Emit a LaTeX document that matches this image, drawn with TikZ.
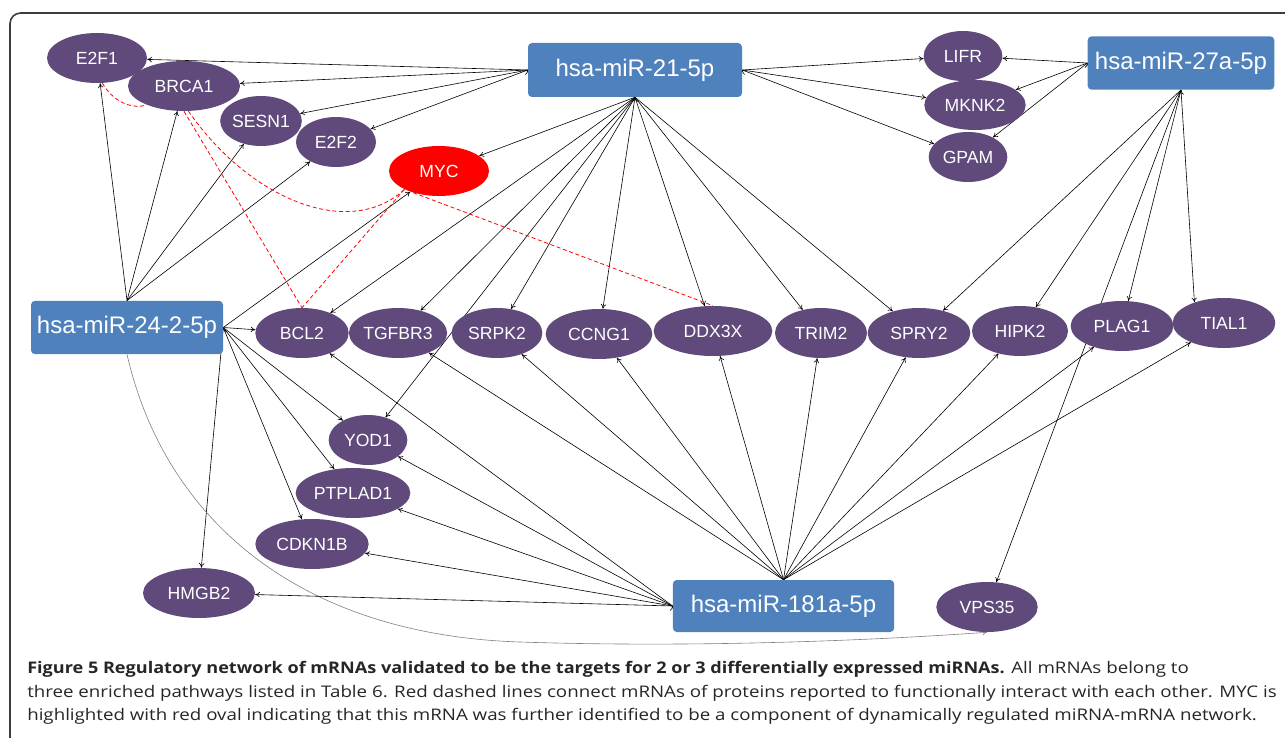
\documentclass[tikz,border=0pt]{standalone}
\usepackage{fontspec}
\setmainfont{Liberation Sans}
\newfontfamily\capfont[FakeStretch=1.17,BoldFeatures={FakeStretch=1.13}]{Open Sans}
\usetikzlibrary{shapes.geometric,arrows.meta,backgrounds}

\definecolor{mirblue}{RGB}{79,129,189}
\definecolor{mrnapurple}{RGB}{95,74,123}
\definecolor{framegray}{RGB}{60,60,60}

\tikzset{
  mirna/.style={rectangle, rounded corners=3pt, fill=mirblue, text=white, inner sep=0pt,
    font=\fontsize{18}{20}\selectfont},
  mrna/.style={ellipse, fill=mrnapurple, text=white, inner sep=0pt, minimum height=37.5pt,
    font=\fontsize{13.2}{15}\selectfont},
  target/.style={-{To[length=3.5pt,width=4pt]}, line width=0.45pt},
  interact/.style={red, line width=0.6pt, dash pattern=on 3pt off 2pt},
  caption/.style={anchor=base west, inner sep=0pt, text=black!85,
    font=\capfont\fontsize{12}{14}\selectfont},
}

\begin{document}
\begin{tikzpicture}[x=0.75pt,y=-0.75pt]
    \useasboundingbox (0,0) rectangle (1285,738);

    % Frame
    \draw[framegray, line width=1.2pt, rounded corners=8pt] (1285,13) -- (10,13) -- (10,738);

    % miRNAs
    \node[mirna, minimum width=160.5pt, minimum height=40.5pt] (mir21) at (635,70) {hsa-miR-21-5p};
    \node[mirna, minimum width=140pt, minimum height=40pt] (mir27) at (1181,63) {hsa-miR-27a-5p};
    \node[mirna, minimum width=144pt, minimum height=40pt] (mir24) at (127,327.5) {hsa-miR-24-2-5p};
    \node[mirna, minimum width=166pt, minimum height=39pt] (mir181) at (783.5,606) {hsa-miR-181a-5p};

    % mRNAs, upper left
    \node[mrna, minimum width=75pt] (E2F1) at (97,58) {E2F1};
    \node[mrna, minimum width=84pt] (BRCA1) at (184,86) {BRCA1};
    \node[mrna, minimum width=59pt] (SESN1) at (261,121) {SESN1};
    \node[mrna, minimum width=60pt] (E2F2) at (336,142) {E2F2};
    \node[mrna, minimum width=75pt, fill=red] (MYC) at (439,171) {MYC};

    % mRNAs, upper right
    \node[mrna, minimum width=59pt] (LIFR) at (963,56) {LIFR};
    \node[mrna, minimum width=76pt] (MKNK2) at (975,105) {MKNK2};
    \node[mrna, minimum width=59pt] (GPAM) at (968,157) {GPAM};

    % mRNAs, middle row
    \node[mrna, minimum width=70pt] (BCL2) at (302,333) {BCL2};
    \node[mrna, minimum width=73pt] (TGFBR3) at (398,333) {TGFBR3};
    \node[mrna, minimum width=68pt] (SRPK2) at (497,333) {SRPK2};
    \node[mrna, minimum width=80pt] (CCNG1) at (599,334) {CCNG1};
    \node[mrna, minimum width=89pt] (DDX3X) at (713,331) {DDX3X};
    \node[mrna, minimum width=69pt] (TRIM2) at (821,333) {TRIM2};
    \node[mrna, minimum width=77pt] (SPRY2) at (919,333) {SPRY2};
    \node[mrna, minimum width=72pt] (HIPK2) at (1020,331) {HIPK2};
    \node[mrna, minimum width=77pt] (PLAG1) at (1122,326) {PLAG1};
    \node[mrna, minimum width=77pt] (TIAL1) at (1224,323) {TIAL1};

    % mRNAs, lower part
    \node[mrna, minimum width=59pt] (YOD1) at (368,440) {YOD1};
    \node[mrna, minimum width=86pt] (PTPLAD1) at (353,493) {PTPLAD1};
    \node[mrna, minimum width=85pt] (CDKN1B) at (312,544) {CDKN1B};
    \node[mrna, minimum width=84pt] (HMGB2) at (199,593) {HMGB2};
    \node[mrna, minimum width=76pt] (VPS35) at (987,607) {VPS35};

    \begin{scope}[on background layer]
    % hsa-miR-21-5p targets
    \draw[target] (mir21.west) edge (E2F1) edge (BRCA1) edge (SESN1) edge (E2F2);
    \draw[target] (mir21.east) edge (LIFR) edge (MKNK2) edge (GPAM);
    \draw[target] (mir21.south) edge (MYC) edge (BCL2) edge (TGFBR3) edge (YOD1) edge (SRPK2)
        edge (CCNG1) edge (DDX3X) edge (TRIM2) edge (SPRY2);

    % hsa-miR-27a-5p targets
    \draw[target] (mir27.west) edge (LIFR) edge (MKNK2) edge (GPAM);
    \draw[target] (mir27.south) edge (SPRY2) edge (HIPK2) edge (PLAG1) edge (TIAL1.145) edge (VPS35);

    % hsa-miR-24-2-5p targets
    \draw[target] (mir24.north) edge (E2F1) edge (BRCA1) edge (SESN1) edge (E2F2);
    \draw[target] (mir24.east) edge (MYC) edge (BCL2) edge (YOD1) edge (PTPLAD1) edge (CDKN1B) edge (HMGB2);
    \draw[target, gray] (mir24.south) .. controls (165,520) and (300,635) .. (520,642)
        .. controls (700,648) and (880,640) .. (VPS35.south);

    % hsa-miR-181a-5p targets
    \draw[target] (mir181.north) edge (TGFBR3) edge (SRPK2) edge (CCNG1) edge (DDX3X) edge (TRIM2)
        edge (SPRY2) edge (HIPK2) edge (PLAG1) edge (TIAL1);
    \draw[target] (mir181.west) edge (BCL2) edge (YOD1) edge (PTPLAD1) edge (CDKN1B) edge (HMGB2);

    % Interacting proteins
    \draw[interact] (E2F1.-78) .. controls (112,100) and (130,110) .. (BRCA1.207);
    \draw[interact] (BRCA1.south) -- (BCL2.north);
    \draw[interact] (BRCA1.-80) .. controls (250,200) and (350,240) .. (MYC.208);
    \draw[interact] (MYC.208) -- (BCL2.north);
    \draw[interact] (MYC.220) -- (DDX3X.north);
    \end{scope}

    % Caption
    \node[caption] (cap1) at (27,673) {\textbf{Figure 5 Regulatory network of mRNAs validated to be the targets for 2 or 3 differentially expressed miRNAs.} All mRNAs belong to};
    \node[caption] (cap2) at (27,697) {three enriched pathways listed in Table 6. Red dashed lines connect mRNAs of proteins reported to functionally interact with each other. MYC is};
    \node[caption] (cap3) at (27,720) {highlighted with red oval indicating that this mRNA was further identified to be a component of dynamically regulated miRNA-mRNA network.};
\end{tikzpicture}
\end{document}
